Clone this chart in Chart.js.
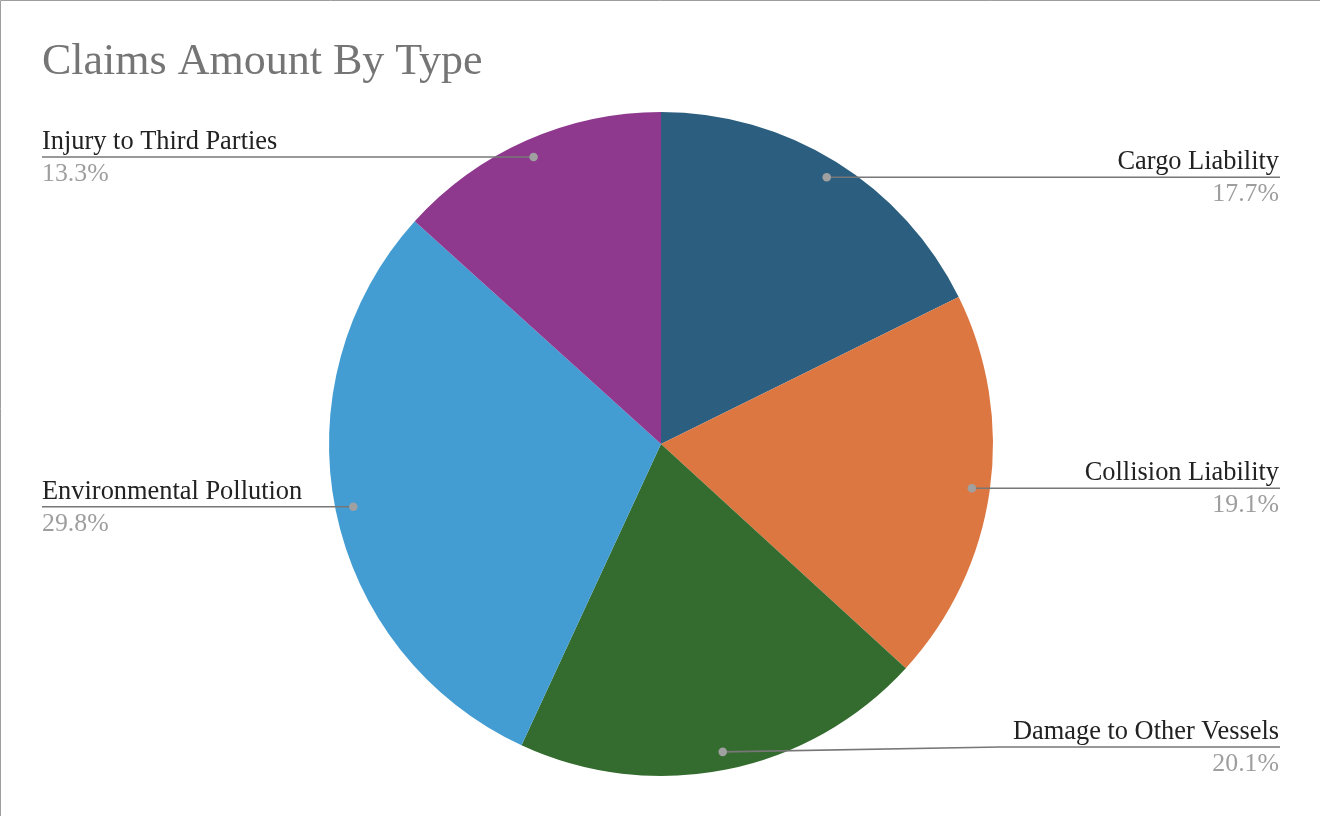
<!DOCTYPE html>
<html>
<head>
<meta charset="utf-8">
<script src="https://cdn.jsdelivr.net/npm/chart.js@4.4.1/dist/chart.umd.min.js"></script>
<style>
  html, body { margin: 0; padding: 0; background: #fff; }
  #wrap { width: 1320px; height: 816px; position: relative; }
  canvas { display: block; }
</style>
</head>
<body>
<div id="wrap"><canvas id="c" width="1320" height="816"></canvas></div>
<script>
const titleText = 'Claims Amount By Type';
const categories = ['Cargo Liability', 'Collision Liability', 'Damage to Other Vessels', 'Environmental Pollution', 'Injury to Third Parties'];
const values = [17.7, 19.1, 20.1, 29.8, 13.3];
const sliceColors = ['#2c5f7f', '#dc7742', '#346b2e', '#439dd3', '#8e398e'];

const SERIF = '"Liberation Serif", "Times New Roman", Times, serif';

const framePlugin = {
  id: 'frame',
  beforeDraw(chart) {
    const ctx = chart.ctx;
    ctx.save();
    ctx.fillStyle = '#ffffff';
    ctx.fillRect(0, 0, chart.width, chart.height);
    ctx.strokeStyle = '#9e9e9e';
    ctx.lineWidth = 1;
    ctx.beginPath();
    ctx.moveTo(0.5, chart.height);
    ctx.lineTo(0.5, 0.5);
    ctx.lineTo(chart.width, 0.5);
    ctx.stroke();
    ctx.restore();
  }
};

const calloutPlugin = {
  id: 'callouts',
  afterDatasetsDraw(chart) {
    const ctx = chart.ctx;
    const meta = chart.getDatasetMeta(0);
    const area = chart.chartArea;
    const data = chart.data.datasets[0].data;
    const total = data.reduce((a, b) => a + b, 0);
    ctx.save();
    meta.data.forEach((arc, i) => {
      const p = arc.getProps(['x', 'y', 'startAngle', 'endAngle', 'outerRadius'], true);
      const mid = (p.startAngle + p.endAngle) / 2;
      const r = p.outerRadius - 18;
      const dx = p.x + Math.cos(mid) * r;
      const dy = p.y + Math.sin(mid) * r;
      const right = Math.cos(mid) >= 0;
      const lineY = Math.min(dy, area.bottom - 29);
      const endX = right ? area.right : area.left;
      // leader line
      ctx.strokeStyle = '#777777';
      ctx.lineWidth = 1.6;
      ctx.beginPath();
      ctx.moveTo(dx, dy);
      if (Math.abs(lineY - dy) > 0.5) {
        const bendX = right ? area.right - 280 : area.left + 280;
        ctx.lineTo(bendX, lineY);
      }
      ctx.lineTo(endX, lineY);
      ctx.stroke();
      // dot
      ctx.fillStyle = '#a0a0a0';
      ctx.beginPath();
      ctx.arc(dx, dy, 4.3, 0, Math.PI * 2);
      ctx.fill();
      // texts
      ctx.textAlign = right ? 'right' : 'left';
      ctx.textBaseline = 'alphabetic';
      const tx = right ? area.right - 1 : area.left;
      ctx.font = '26.4px ' + SERIF;
      ctx.fillStyle = '#222222';
      ctx.fillText(chart.data.labels[i], tx, lineY - 8);
      ctx.font = '25.8px ' + SERIF;
      ctx.fillStyle = '#9e9e9e';
      ctx.fillText((data[i] / total * 100).toFixed(1) + '%', tx, lineY + 24);
    });
    ctx.restore();
  }
};

new Chart(document.getElementById('c'), {
  type: 'pie',
  data: {
    labels: categories,
    datasets: [{
      data: values,
      backgroundColor: sliceColors,
      borderWidth: 0
    }]
  },
  options: {
    responsive: false,
    animation: false,
    events: [],
    layout: { padding: { left: 42, right: 40, top: 0, bottom: 40 } },
    plugins: {
      legend: { display: false },
      tooltip: { enabled: false },
      title: {
        display: true,
        text: titleText,
        align: 'start',
        color: '#757575',
        font: { family: SERIF, size: 44, weight: 'normal', lineHeight: 1.2 },
        padding: { top: 36, bottom: 23.2 }
      }
    }
  },
  plugins: [framePlugin, calloutPlugin]
});
</script>
</body>
</html>
